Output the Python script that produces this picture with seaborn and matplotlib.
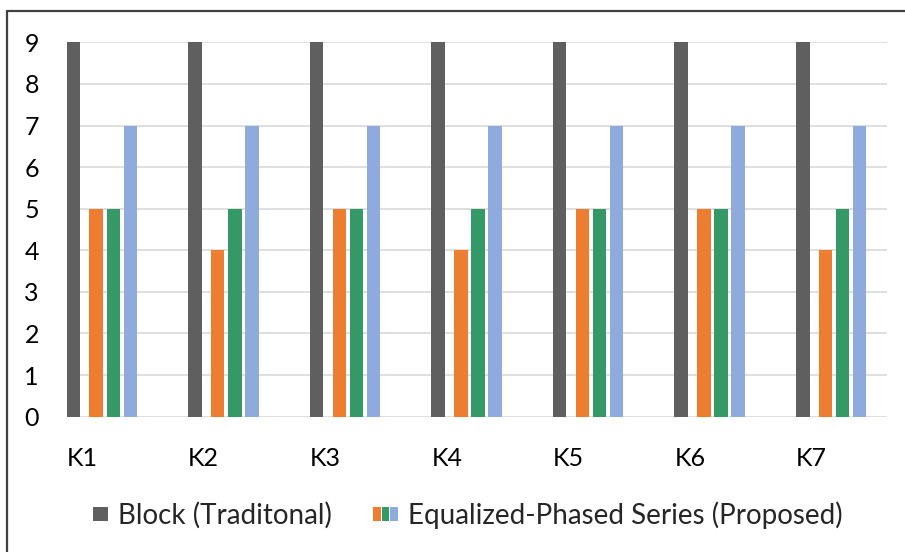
import matplotlib
matplotlib.use("Agg")
import matplotlib.pyplot as plt
import seaborn as sns
import pandas as pd
from matplotlib.patches import Rectangle, Patch
from matplotlib.legend_handler import HandlerBase
from matplotlib.lines import Line2D

categories = ["K1", "K2", "K3", "K4", "K5", "K6", "K7"]
block_traditional = [9, 9, 9, 9, 9, 9, 9]
phase_a = [5, 4, 5, 4, 5, 5, 4]
phase_b = [5, 5, 5, 5, 5, 5, 5]
phase_c = [7, 7, 7, 7, 7, 7, 7]
series_names = ["Block (Traditonal)", "Phase A", "Phase B", "Phase C"]
legend_labels = ["Block (Traditonal)", "Equalized-Phased Series (Proposed)"]
y_ticks = [0, 1, 2, 3, 4, 5, 6, 7, 8, 9]

colors = ["#5f5f5f", "#ed7d31", "#349966", "#8faadc"]

sns.set_theme(style="white")
FONT = ["Lato", "DejaVu Sans"]
plt.rcParams["font.family"] = FONT

rows = []
for name, vals in zip(series_names, [block_traditional, phase_a, phase_b, phase_c]):
    for c, v in zip(categories, vals):
        rows.append({"cat": c, "series": name, "value": v})
df = pd.DataFrame(rows)

fig = plt.figure(figsize=(9.05, 5.52), dpi=100)
ax = fig.add_axes([66.7 / 905, 1 - 416.7 / 552, (887 - 66.7) / 905, (416.7 - 42.3) / 552])

sns.barplot(data=df, x="cat", y="value", hue="series", hue_order=series_names,
            order=categories, palette=colors, saturation=1, ax=ax, legend=False,
            edgecolor="none", linewidth=0, errorbar=None)

# reposition bars: Excel-like layout within each category
cat_w = 121.55
offsets = [0.0, 22.7 / cat_w, 39.8 / cat_w, 56.8 / cat_w]
bar_w = 13.5 / cat_w
for k, cont in enumerate(ax.containers):
    for j, bar in enumerate(cont.patches):
        bar.set_x(j + offsets[k])
        bar.set_width(bar_w)

ax.set_xlim(0, (887 - 66.7) / cat_w)
ax.set_ylim(0, 9)
ax.set_yticks(y_ticks)
ax.set_xticks(range(len(categories)))
ax.set_xticklabels(categories, ha="left")
ax.set_xlabel("")
ax.set_ylabel("")
ax.grid(axis="y", color="#d9d9d9", linewidth=1.2)
ax.set_axisbelow(True)
for s in ax.spines.values():
    s.set_visible(False)
ax.tick_params(axis="both", length=0, labelsize=18, colors="black")
ax.tick_params(axis="y", pad=20)
ax.tick_params(axis="x", pad=22)


class SquareHandler(HandlerBase):
    def create_artists(self, legend, orig_handle, xdescent, ydescent, width,
                       height, fontsize, trans):
        s = 14.5 * 0.72
        r = Rectangle((width - s - xdescent, -ydescent + (height - s) / 2), s, s,
                      facecolor=orig_handle.get_facecolor(), edgecolor="none",
                      transform=trans)
        return [r]


class StripesHandler(HandlerBase):
    def create_artists(self, legend, orig_handle, xdescent, ydescent, width,
                       height, fontsize, trans):
        s = 14.5 * 0.72
        n = len(orig_handle.cols)
        w = width / n
        arts = []
        for i, c in enumerate(orig_handle.cols):
            arts.append(Rectangle((-xdescent + i * w, -ydescent + (height - s) / 2),
                                  w * 0.9, s, facecolor=c, edgecolor="none",
                                  transform=trans))
        return arts


class Stripes(Patch):
    def __init__(self, cols):
        super().__init__()
        self.cols = cols


h1 = Patch(facecolor=colors[0])
h2 = Stripes(colors[1:])
fs = 20
px = fs * 100 / 72
fig.legend([h1, h2], legend_labels, ncol=2, loc="center left",
           bbox_to_anchor=(82.6 / 905, 1 - 515 / 552), frameon=False,
           fontsize=fs, handlelength=25 / px, handleheight=0.6, handletextpad=10 / px,
           columnspacing=42 / px, borderpad=0, borderaxespad=0,
           handler_map={Patch: SquareHandler(), Stripes: StripesHandler()})

# outer frame (left and top edges)
fig.add_artist(Line2D([7 / 905, 7 / 905], [0, 1 - 11 / 552], color="#404040",
                      linewidth=1.6, transform=fig.transFigure))
fig.add_artist(Line2D([7 / 905, 1], [1 - 11 / 552, 1 - 11 / 552], color="#404040",
                      linewidth=1.6, transform=fig.transFigure))

fig.savefig("out.png", dpi=100)
